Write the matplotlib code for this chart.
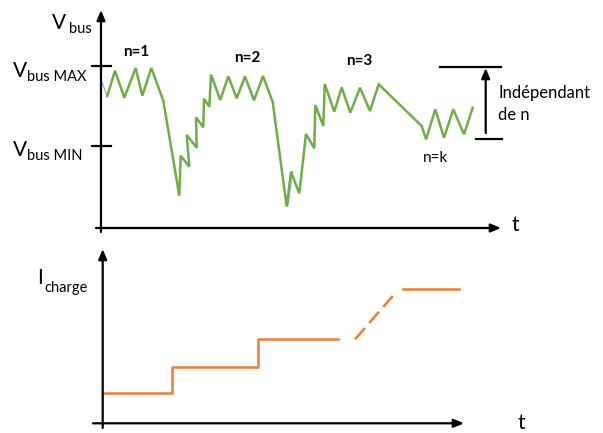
import matplotlib
matplotlib.use("Agg")
import matplotlib.pyplot as plt

# ---- data (pixel-space schematic coordinates) ----
vbus_x = [107.3, 115, 124.3, 135.7, 142.3, 151.3, 163.3, 179.3, 180.7, 189.3, 186.7, 196.7,
          196, 203.3, 204, 209.3, 211, 220.3, 228.3, 236.7, 245, 254, 263, 272.7, 286.7,
          291, 299.3, 306, 314.3, 315.3, 323.3, 324.7, 334.3, 341.7, 350.3, 360, 370, 378.7,
          421.7, 426, 435.3, 444, 453.3, 464, 472.7]
vbus_y = [96, 70.7, 97.7, 68, 95.7, 68, 100.7, 195.7, 155.7, 166.7, 135, 147.7,
          117.3, 127.3, 98.7, 106.7, 74.7, 100, 76.3, 98.3, 76.3, 100.3, 76, 102, 206.7,
          171.7, 193.3, 134, 148.3, 105, 126, 84, 111.7, 87.3, 112.7, 87.7, 111, 84.3,
          126, 139.3, 109.3, 137.7, 109.3, 134.3, 107.7]
blue1_x = [101, 107.3]
blue1_y = [80, 96]
blue2_x = [288, 292.5]
blue2_y = [205, 172]

icharge_x = [103, 172, 172, 257.7, 257.7, 338]
icharge_y = [392.7, 392.7, 367.3, 367.3, 339.3, 339.3]
dash_x = [355, 392.7]
dash_y = [339.3, 296]
high_x = [403.3, 459]
high_y = [288.7, 288.7]

GREEN = "#70AD47"
ORANGE = "#ED7D31"
BLUE = "#8FAADC"
FONT = "Lato"

fig = plt.figure(figsize=(6.03, 4.33), dpi=100)
ax = fig.add_axes([0, 0, 1, 1])
ax.set_xlim(0, 603)
ax.set_ylim(433, 0)
ax.axis("off")

def arrow(x0, y0, x1, y1):
    ax.annotate("", xy=(x1, y1), xytext=(x0, y0),
                arrowprops=dict(arrowstyle="-|>,head_length=0.6,head_width=0.25",
                                color="black", lw=1.6, shrinkA=0, shrinkB=0))

# top axes
arrow(101, 232, 101, 10)
arrow(96, 228, 501, 228)
ax.plot([92, 111], [66, 66], color="black", lw=1.6)
ax.plot([92, 111], [146, 146], color="black", lw=1.6)

# bottom axes
arrow(102.7, 428, 102.7, 249)
arrow(93, 423.3, 464, 423.3)

# waveforms
ax.plot(blue1_x, blue1_y, color=BLUE, lw=1.0)
ax.plot(blue2_x, blue2_y, color=BLUE, lw=1.0)
ax.plot(vbus_x, vbus_y, color=GREEN, lw=1.8, solid_joinstyle="miter")
ax.plot(icharge_x, icharge_y, color=ORANGE, lw=1.8)
ax.plot(dash_x, dash_y, color=ORANGE, lw=1.8, dashes=(6, 2.6), dash_capstyle="butt")
ax.plot(high_x, high_y, color=ORANGE, lw=1.8)

# bracket "Indépendant de n"
ax.plot([440, 501], [66.7, 66.7], color="black", lw=1.6)
ax.plot([476, 502], [139, 139], color="black", lw=1.6)
arrow(485.7, 133, 485.7, 68)

# texts
def txt(x, y, s, size, **kw):
    ax.text(x, y, s, fontsize=size, family=FONT, color="black", **kw)

txt(52, 29, "V", 15, va="baseline")
txt(69.5, 33, "bus", 10.5, va="baseline")
txt(13, 77, "V", 15, va="baseline")
txt(27, 81, "bus MAX", 10.5, va="baseline")
txt(13, 156, "V", 15, va="baseline")
txt(27, 160, "bus MIN", 10.5, va="baseline")
txt(37, 284, "I", 15, va="baseline")
txt(44, 292, "charge", 10.5, va="baseline")
txt(512, 231, "t", 15, va="baseline")
txt(518, 429, "t", 15, va="baseline")

txt(136, 52, "n=1", 11, ha="center", va="center", fontweight="bold")
txt(247, 58, "n=2", 11, ha="center", va="center", fontweight="bold")
txt(359, 61, "n=3", 11, ha="center", va="center", fontweight="bold")
txt(435.5, 158, "n=k", 11, ha="center", va="center")
txt(498, 93, "Indépendant", 12, ha="left", va="center")
txt(498, 115, "de n", 12, ha="left", va="center")

fig.savefig("out.png", dpi=100)
